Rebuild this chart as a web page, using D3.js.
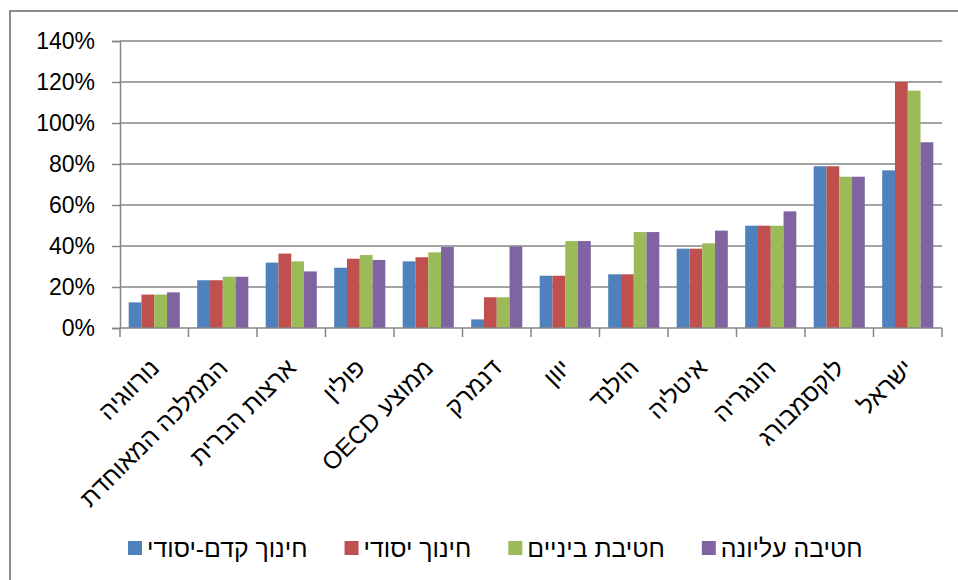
<!DOCTYPE html>
<html>
<head>
<meta charset="utf-8">
<script src="https://cdn.jsdelivr.net/npm/d3@7"></script>
<style>
  body { margin: 0; background: #fff; }
  svg text { font-family: "Liberation Sans", Arial, sans-serif; fill: #000; }
</style>
</head>
<body>
<svg id="chart" width="958" height="580"></svg>
<script>
// data
const categories = ["נורווגיה", "הממלכה המאוחדת", "ארצות הברית", "פולין", "ממוצע OECD", "דנמרק",
  "יוון", "הולנד", "איטליה", "הונגריה", "לוקסמבורג", "ישראל"];
const seriesNames = ["חינוך קדם-יסודי", "חינוך יסודי", "חטיבת ביניים", "חטיבה עליונה"];
const preSchool = [12.5, 23.3, 31.9, 29.4, 32.5, 4.2, 25.5, 26.2, 38.7, 49.9, 78.9, 76.9];
const primary   = [16.3, 23.3, 36.3, 33.8, 34.5, 15.0, 25.5, 26.2, 38.7, 49.9, 78.9, 120.0];
const lowerSec  = [16.3, 25.0, 32.5, 35.6, 36.9, 15.0, 42.4, 46.8, 41.3, 49.9, 73.8, 115.8];
const upperSec  = [17.4, 25.0, 27.6, 33.2, 39.5, 39.8, 42.4, 46.8, 47.5, 56.9, 73.8, 90.6];
const yTicks = [0, 20, 40, 60, 80, 100, 120, 140];
const colors = ["#4F81BD", "#C0504D", "#9BBB59", "#8064A2"];

const series = [preSchool, primary, lowerSec, upperSec];

const svg = d3.select("#chart");

// outer frame (runs off the right and bottom edges)
svg.append("rect")
  .attr("x", 10).attr("y", 11)
  .attr("width", 1000).attr("height", 1000)
  .attr("fill", "none")
  .attr("stroke", "#8c8c8c")
  .attr("stroke-width", 2);

const plotLeft = 120, plotRight = 942, plotTop = 41, plotBottom = 328;

const x = d3.scaleBand()
  .domain(categories)
  .range([plotLeft, plotRight])
  .paddingInner(0)
  .paddingOuter(0);

const inner = d3.scaleBand()
  .domain(d3.range(series.length))
  .range([0, x.bandwidth()])
  .paddingOuter(0.68)
  .paddingInner(0);

const y = d3.scaleLinear()
  .domain([0, 140])
  .range([plotBottom, plotTop]);

// y axis with outward ticks
const yAxis = svg.append("g")
  .attr("transform", "translate(" + plotLeft + ",0)")
  .call(d3.axisLeft(y)
    .tickValues(yTicks)
    .tickSize(8)
    .tickPadding(17)
    .tickFormat(d => d + "%"));
yAxis.select(".domain").attr("stroke", "#868686").attr("stroke-width", 1.5);
yAxis.selectAll(".tick line").attr("stroke", "#868686").attr("stroke-width", 1.5);
yAxis.selectAll(".tick text")
  .style("font-size", "23px")
  .attr("fill", "#000");

// gridlines
svg.append("g")
  .selectAll("line")
  .data(yTicks.filter(d => d > 0))
  .enter()
  .append("line")
  .attr("x1", plotLeft).attr("x2", plotRight)
  .attr("y1", d => y(d)).attr("y2", d => y(d))
  .attr("stroke", "#868686")
  .attr("stroke-width", 1.5);

// bars
categories.forEach((c, i) => {
  const g = svg.append("g").attr("transform", "translate(" + x(c) + ",0)");
  g.selectAll("rect")
    .data(series.map((s, k) => ({ k: k, v: s[i] })))
    .enter()
    .append("rect")
    .attr("x", d => inner(d.k))
    .attr("y", d => y(d.v))
    .attr("width", inner.bandwidth())
    .attr("height", d => y(0) - y(d.v))
    .attr("fill", d => colors[d.k]);
});

// x axis line and ticks at category boundaries
svg.append("line")
  .attr("x1", plotLeft).attr("x2", plotRight)
  .attr("y1", plotBottom).attr("y2", plotBottom)
  .attr("stroke", "#868686").attr("stroke-width", 1.5);

const bounds = categories.map(c => x(c)).concat([plotRight]);
svg.append("g")
  .selectAll("line")
  .data(bounds)
  .enter()
  .append("line")
  .attr("x1", d => d).attr("x2", d => d)
  .attr("y1", plotBottom).attr("y2", plotBottom + 9)
  .attr("stroke", "#868686").attr("stroke-width", 1.5);

// rotated category labels
svg.append("g")
  .selectAll("text")
  .data(categories)
  .enter()
  .append("text")
  .attr("transform", d => "translate(" + (x(d) + x.bandwidth() / 2 - 6) + ",357) rotate(-45)")
  .attr("direction", "rtl")
  .attr("text-anchor", "start")
  .attr("dy", "0.72em")
  .style("font-size", "24.5px")
  .text(d => d);

// legend
const legend = svg.append("g").attr("transform", "translate(128,548)");
let lx = 0;
seriesNames.forEach((name, k) => {
  const item = legend.append("g").attr("transform", "translate(" + lx + ",0)");
  item.append("rect")
    .attr("x", 0).attr("y", -7)
    .attr("width", 14).attr("height", 14)
    .attr("fill", colors[k]);
  const t = item.append("text")
    .attr("x", 19).attr("y", 0)
    .attr("dy", "0.36em")
    .style("font-size", "24.8px")
    .text(name);
  lx += 19 + t.node().getComputedTextLength() + 37;
});
</script>
</body>
</html>
